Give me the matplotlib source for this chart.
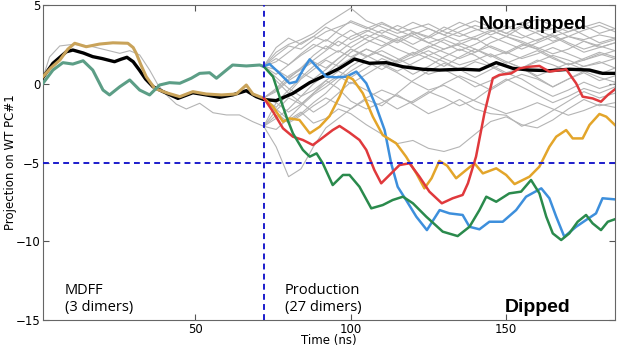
import numpy as np
import matplotlib
matplotlib.use("Agg")
import matplotlib.pyplot as plt

# --- MDFF stage (3 dimers) ---
mdff_gray_t = [1, 3.1, 6.4, 10.6, 16, 21.4, 25.7, 28.9, 32.1, 35.3, 38, 40.7, 43.9, 47.1,
               51.4, 55.7, 60, 64.2, 68.5, 72]
mdff_gray = [0.4, 1.7, 2.4, 2.5, 2.4, 2.14, 1.93, 2.1, 1.83, 0.87, -0.08, -0.71, -1.3, -1.6,
             -1.24, -1.84, -1.98, -1.98, -2.41, -2.7]

mdff_tan_t = [1, 3.5, 6.4, 9, 11.2, 14.9, 19.2, 23.5, 28.3, 30, 31, 32.5, 34.2, 36.9, 40.7,
              45, 49.2, 53.5, 58.4, 63.2, 66.4, 68.5, 70.7, 72]
mdff_tan = [0.45, 1.0, 1.5, 2.2, 2.57, 2.35, 2.52, 2.6, 2.57, 2.3, 1.93, 1.2, 0.45, -0.29, -0.57,
            -0.82, -0.5, -0.65, -0.71, -0.65, -0.08, -0.65, -0.82, -0.9]

mdff_teal_t = [1, 4.2, 7.4, 10.6, 13.9, 17, 20.3, 22.4, 25.7, 28.9, 32.1, 35.3, 38.5, 41.7,
               45, 48.7, 51.4, 54.6, 56.8, 60, 62, 66.4, 70.7, 72]
mdff_teal = [0.03, 0.87, 1.34, 1.25, 1.46, 0.87, -0.4, -0.71, -0.19, 0.24, -0.4, -0.71, -0.08,
             0.07, 0.03, 0.35, 0.66, 0.7, 0.35, 0.87, 1.19, 1.13, 1.19, 1.1]

# --- mean projection ---
mean_t = [1, 4.2, 8.5, 10.6, 14, 17, 20, 24, 26, 28, 30, 32, 34, 36.4, 39.6, 44.4, 49.2, 53.5,
          57.8, 62, 66.4, 69.6, 72, 76, 81.4, 86.8, 92.1, 96.4, 101.2, 106, 111.4, 116.8,
          123.2, 128.6, 136, 141.4, 146.8, 152.1, 157.5, 163.9, 170.3, 176.8, 181, 185]
mean_y = [0.4, 1.3, 2.03, 2.14, 1.95, 1.72, 1.6, 1.40, 1.55, 1.68, 1.4, 0.87, 0.3, -0.19, -0.5,
          -0.93, -0.57, -0.71, -0.86, -0.71, -0.44, -0.82, -1.0, -1.07, -0.61, 0.07, 0.56, 0.98,
          1.57, 1.30, 1.34, 1.08, 0.92, 0.87, 0.92, 0.87, 1.34, 0.98, 0.87, 0.83, 0.92, 0.87,
          0.66, 0.66]

# --- production stage, highlighted dipped runs ---
gold_t = [72, 75, 78.2, 80.3, 83.5, 86.8, 90, 93.2, 96.4, 99.1, 100.7, 103.9, 107.1, 110.3,
          114.6, 117.8, 121.1, 123.7, 126, 128.5, 131, 133.9, 137.1, 139.8, 142.5, 146.8, 150,
          152.7, 157.5, 160.7, 163.9, 166.1, 169.3, 171.4, 174.6, 176.8, 180, 182.2, 185]
gold = [-0.9, -1.46, -2.41, -2.2, -2.3, -3.15, -2.73, -2.05, -0.82, 0.45, 0.28, -0.61, -2.09,
        -3.26, -3.78, -4.63, -5.69, -6.64, -6.0, -4.9, -5.2, -6.0, -5.48, -5.05, -5.69, -5.37,
        -5.79, -6.37, -5.9, -5.26, -4.0, -3.36, -2.94, -3.47, -3.47, -2.62, -1.92, -2.09, -2.62]

red_t = [72, 75, 78.2, 81.4, 84.6, 87.8, 90, 94.2, 96.4, 99.6, 102.8, 105, 107.6, 109.8, 113,
         115.7, 118.9, 122.1, 125.3, 129.3, 132.8, 136, 137.7, 140.3, 143, 145.7, 147.8, 151.6,
         154.3, 157.5, 160.7, 163.9, 169.3, 172.5, 174.6, 177.8, 180.5, 182.7, 185]
red = [-0.9, -1.77, -2.83, -3.36, -3.57, -3.89, -3.57, -2.94, -2.68, -3.1, -3.57, -4.2, -5.48,
       -6.32, -5.69, -5.16, -5.05, -5.9, -6.85, -7.59, -7.27, -7.06, -6.32, -4.63, -1.88, 0.35,
       0.56, 0.66, 0.98, 1.08, 1.13, 0.77, 0.92, 0.03, -0.82, -0.93, -1.14, -0.71, -0.35]

blue_t = [72, 73.9, 77.1, 80.3, 82.5, 84.6, 86.8, 89, 92.1, 95.3, 98.6, 101.8, 105, 108.2,
          110.9, 113, 115.1, 117.8, 121.1, 124.5, 128.6, 131.8, 136, 138.2, 141.4, 144.6, 148.9,
          153.2, 156.4, 161.3, 163.9, 166.1, 168.7, 172.5, 175.7, 178.9, 181, 185]
blue = [1.1, 1.25, 0.66, 0.03, 0.13, 0.87, 1.55, 1.08, 0.45, 0.41, 0.45, 0.77, 0.03, -1.46,
        -2.94, -5.05, -6.54, -7.38, -8.44, -9.29, -8.02, -8.23, -8.33, -9.08, -9.24, -8.76,
        -8.76, -8.02, -7.17, -6.64, -7.27, -8.44, -9.71, -9.08, -8.65, -8.23, -7.27, -7.34]

green_t = [72, 75, 77.1, 79.3, 81.4, 84.6, 86.8, 89, 91, 94.2, 97.5, 99.6, 102.8, 106.6, 110.3,
           113.5, 116.8, 120, 124.3, 129.6, 134.4, 138.2, 141.4, 143.6, 146.8, 151, 154.8, 158,
           160.7, 162.9, 165, 167.7, 170.3, 173, 175.7, 177.8, 180.5, 182.7, 185]
green = [1.1, 0.45, -0.82, -2.09, -3.15, -4.2, -4.63, -4.42, -5.05, -6.43, -5.79, -5.79, -6.54,
         -7.91, -7.7, -7.38, -7.17, -7.59, -8.44, -9.39, -9.67, -9.08, -8.02, -7.17, -7.49,
         -6.96, -6.85, -6.11, -6.96, -8.44, -9.5, -9.92, -9.5, -8.76, -8.33, -8.86, -9.29,
         -8.76, -8.6]

# --- production stage, other runs (gray) ---
prod_t = [72, 76, 80, 84, 88, 92, 96, 100, 105, 110, 115, 120, 125, 130, 135, 140, 145, 150,
          155, 160, 165, 170, 175, 180, 185]
prod_gray = [
    [1.1, 2.0, 2.5, 2.8, 3.2, 3.8, 4.3, 4.8, 4.0, 3.6, 3.2, 3.5, 3.8, 3.3, 3.0, 3.4, 3.6, 3.2, 2.9, 3.3, 3.5, 3.0, 2.8, 3.1, 2.9],
    [1.1, 1.8, 2.4, 2.2, 2.8, 3.3, 3.6, 3.9, 3.5, 3.9, 3.4, 3.0, 2.6, 2.9, 3.3, 3.7, 3.4, 3.0, 3.6, 3.2, 2.7, 3.0, 3.4, 3.7, 3.3],
    [1.1, 0.6, 1.2, 1.9, 2.5, 2.2, 2.9, 3.4, 2.8, 2.4, 2.9, 3.2, 2.6, 2.2, 2.5, 2.9, 2.3, 1.9, 2.4, 2.8, 3.1, 2.6, 2.2, 2.5, 2.8],
    [-0.9, -0.3, 0.5, 1.0, 1.8, 2.4, 2.0, 2.6, 3.1, 2.7, 2.2, 1.8, 2.3, 2.8, 2.4, 2.0, 2.6, 3.0, 2.7, 2.3, 1.9, 2.2, 2.7, 2.4, 2.1],
    [-0.9, -1.5, -0.6, 0.3, 0.9, 1.5, 1.1, 1.6, 2.2, 1.8, 1.3, 1.7, 2.1, 1.6, 1.2, 1.5, 1.9, 1.4, 1.0, 1.4, 1.8, 1.5, 1.1, 1.3, 1.6],
    [-2.7, -2.2, -1.6, -0.8, 0.0, 0.6, 1.3, 2.0, 2.6, 3.1, 2.7, 3.3, 3.0, 3.6, 3.2, 2.8, 3.3, 3.7, 3.1, 2.7, 3.2, 3.6, 3.1, 2.6, 2.9],
    [-2.7, -2.0, -2.4, -1.9, -1.2, -0.6, 0.2, 0.8, 1.4, 0.9, 1.5, 2.0, 1.6, 1.1, 1.7, 2.2, 1.8, 1.3, 1.7, 2.1, 1.6, 1.2, 1.5, 1.9, 1.6],
    [-0.9, -1.8, -2.5, -2.0, -1.4, -0.9, -1.3, -1.6, -0.9, -0.4, -0.8, -1.2, -0.6, 0.0, 0.5, 0.1, -0.4, 0.2, 0.6, 0.3, -0.2, 0.3, 0.7, 0.2, 0.5],
    [-2.7, -4.0, -5.9, -5.4, -4.0, -2.8, -2.2, -1.6, -1.0, -1.4, -0.6, 0.2, 0.8, 1.3, 0.9, 1.4, 1.1, 0.6, 1.0, 1.5, 1.2, 0.8, 1.1, 1.4, 1.0],
    [-0.9, -1.6, -2.3, -1.8, -2.5, -2.2, -1.6, -1.9, -2.6, -3.2, -3.8, -3.6, -4.1, -4.3, -4.0, -3.2, -2.4, -2.1, -2.6, -2.8, -2.3, -1.6, -1.0, -1.4, -1.2],
    [1.1, 0.4, -0.3, -0.8, -0.4, 0.2, -0.3, -1.1, -1.6, -1.2, -0.7, -1.3, -1.9, -1.5, -1.0, -1.6, -1.9, -2.0, -2.7, -2.3, -1.7, -1.1, -0.5, -0.9, -0.6],
    [1.1, 1.4, 2.0, 2.6, 3.0, 2.7, 3.4, 4.0, 3.6, 3.2, 3.7, 3.3, 2.9, 3.4, 3.9, 3.5, 3.1, 3.5, 3.9, 3.4, 3.0, 3.3, 3.7, 3.2, 3.5],
    [-0.9, -0.5, 0.2, 0.7, 0.3, 0.9, 1.6, 2.2, 1.7, 2.3, 2.8, 2.3, 1.8, 2.2, 2.6, 2.2, 1.7, 2.0, 2.5, 2.2, 1.7, 1.2, 1.6, 2.0, 1.7],
    [-2.7, -1.7, -0.9, -1.3, -0.6, 0.2, 0.8, 0.4, 1.0, 1.6, 1.2, 0.6, 1.1, 1.7, 2.2, 1.8, 1.2, 0.7, 1.0, 0.4, -0.2, 0.3, 0.8, 0.4, 0.1],
    [1.1, 0.2, -0.6, -1.2, -1.8, -1.3, -0.6, 0.1, -0.4, -1.0, -1.6, -1.1, -0.5, -0.9, -1.4, -1.0, -0.3, 0.3, -0.2, -0.7, -1.2, -0.8, -0.3, -0.6, -0.2],
    [-0.9, -0.4, 0.3, 1.0, 1.5, 2.1, 2.7, 2.3, 2.9, 3.4, 3.0, 2.5, 3.0, 2.6, 2.1, 2.5, 3.0, 2.6, 2.2, 2.6, 3.0, 2.5, 2.0, 2.3, 2.6],
    [-2.7, -2.9, -2.2, -1.4, -0.7, -0.2, 0.4, 1.1, 1.7, 2.1, 1.6, 1.1, 0.6, 0.9, 0.4, -0.2, 0.2, 0.7, 0.3, -0.3, -0.8, -0.4, 0.1, -0.3, 0.0],
    [1.1, 1.6, 1.2, 1.8, 2.3, 2.8, 2.4, 3.0, 3.4, 3.0, 2.6, 3.1, 3.5, 3.1, 2.7, 3.0, 3.4, 3.0, 2.6, 2.2, 2.6, 3.0, 2.7, 2.3, 2.6],
    [-0.9, -1.2, -1.8, -1.3, -0.6, 0.0, 0.5, 0.0, 0.6, 1.2, 0.7, 0.1, -0.4, -0.1, -0.6, -1.1, -1.5, -1.9, -1.6, -1.2, -1.6, -2.0, -1.7, -1.3, -1.5],
    [1.1, 2.3, 2.9, 2.5, 3.0, 3.6, 3.2, 2.8, 3.3, 3.8, 3.4, 3.9, 3.5, 3.1, 3.6, 4.0, 3.6, 3.2, 3.7, 4.1, 3.7, 3.3, 3.6, 3.9, 3.5],
    [-2.7, -1.2, -0.4, 0.4, 1.1, 1.6, 2.1, 1.7, 2.2, 1.8, 1.4, 1.9, 2.4, 2.0, 1.6, 2.0, 2.4, 2.0, 1.6, 1.9, 2.3, 1.9, 1.5, 1.8, 2.1],
    [1.1, 0.9, 0.4, 0.9, 1.4, 1.0, 1.6, 2.2, 1.8, 1.3, 0.8, 1.3, 1.8, 1.4, 0.9, 0.4, 0.9, 1.4, 1.0, 0.5, 0.9, 1.3, 0.9, 0.6, 1.0],
]

t_switch = 72
y_cut = -5

fig = plt.figure(figsize=(6.17, 3.49), dpi=100)
ax = fig.add_axes([0.0697, 0.083, 0.927, 0.9027])

gray = '#b4b4b4'
ax.plot(mdff_gray_t, mdff_gray, color=gray, lw=0.8)
for ys in prod_gray:
    ax.plot(prod_t, ys, color=gray, lw=0.8)

ax.plot(mean_t, mean_y, color='black', lw=2.4, zorder=4)

ax.plot(mdff_tan_t, mdff_tan, color='#c9a35a', lw=2.2, zorder=5)
ax.plot(mdff_teal_t, mdff_teal, color='#5c9e86', lw=2.2, zorder=5)

ax.plot(blue_t, blue, color='#3d8fdc', lw=1.8, zorder=5)
ax.plot(gold_t, gold, color='#e3a52a', lw=1.8, zorder=5)
ax.plot(red_t, red, color='#e0393c', lw=1.8, zorder=5)
ax.plot(green_t, green, color='#2a8a4c', lw=1.8, zorder=5)

ax.axvline(t_switch, color='#1c1ccc', lw=1.4, ls=(0, (3, 2.2)), zorder=6)
ax.axhline(y_cut, color='#1c1ccc', lw=1.4, ls=(0, (3, 2.2)), zorder=6)

ax.set_xlim(1, 185)
ax.set_ylim(-15, 5)
ax.set_xticks([50, 100, 150])
ax.set_yticks([-15, -10, -5, 0, 5])
ax.tick_params(direction='in', top=True, right=True, length=4, labelsize=8.5, color='#555555')
ax.tick_params(axis='x', pad=2)
ax.tick_params(axis='y', pad=2)
for sp in ax.spines.values():
    sp.set_color('#666666')

ax.set_xlabel('Time (ns)', fontsize=8.5, labelpad=-1)
ax.set_ylabel('Projection on WT PC#1', fontsize=8.5, labelpad=-1)

ax.text(8, -14.45, 'MDFF\n(3 dimers)', fontsize=10.5, family='Open Sans', linespacing=1.25)
ax.text(78.7, -14.45, 'Production\n(27 dimers)', fontsize=10.5, family='Open Sans', linespacing=1.25)
ax.text(158.5, 3.5, 'Non-dipped', fontsize=14, weight='bold', family='Liberation Sans', ha='center')
ax.text(160, -14.5, 'Dipped', fontsize=14, weight='bold', family='Liberation Sans', ha='center')

fig.savefig('out.png', dpi=100)
